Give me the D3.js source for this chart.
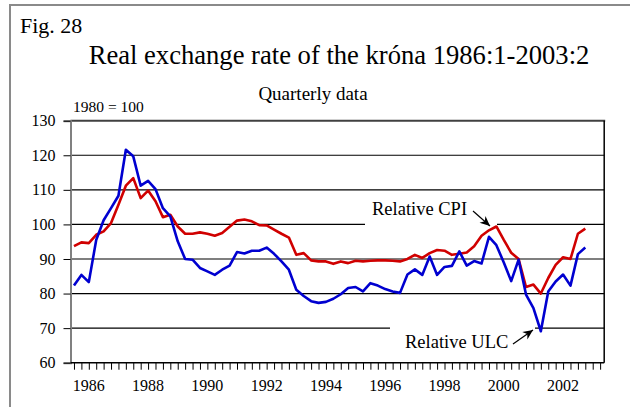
<!DOCTYPE html>
<html><head><meta charset="utf-8">
<script src="https://cdn.jsdelivr.net/npm/d3@7"></script>
<style>html,body{margin:0;padding:0;background:#fff;}svg{display:block;font-family:"Liberation Serif","Times New Roman",serif;}</style>
</head><body>
<svg id="c" width="630" height="407"></svg>
<script>
// quarterly data 1986:1 - 2003:2
const startYear = 1986;
const relativeCPI = [93.7,94.8,94.6,97.0,98.0,100.4,105.7,111.2,113.4,107.6,109.8,106.7,102.1,102.8,99.4,97.3,97.3,97.7,97.3,96.7,97.5,99.3,101.1,101.4,100.9,99.8,99.7,98.5,97.3,96.2,91.2,91.7,89.6,89.3,89.3,88.6,89.3,88.8,89.5,89.3,89.5,89.6,89.6,89.5,89.3,90.0,91.2,90.3,91.7,92.6,92.4,91.2,91.5,91.9,93.7,96.7,98.3,99.4,95.5,91.8,90.0,81.9,82.6,80.0,84.5,88.3,90.5,90.0,97.3,98.8];
const relativeULC = [82.3,85.4,83.3,95.5,101.2,104.7,108.3,121.6,119.7,111.2,112.6,110.2,104.7,102.3,95.1,90.0,89.8,87.4,86.4,85.4,86.9,88.1,92.0,91.6,92.4,92.4,93.3,91.5,89.3,86.9,81.1,79.3,77.8,77.3,77.6,78.5,79.8,81.6,81.9,80.6,83.0,82.3,81.3,80.6,80.2,85.5,87.0,85.4,90.7,85.4,87.7,88.0,92.2,88.1,89.4,88.7,96.4,94.0,89.0,83.6,89.8,79.7,75.8,69.1,80.6,83.5,85.5,82.3,91.4,93.3];
const quarters = relativeCPI.map((d,i)=> (startYear+Math.floor(i/4))+":"+(i%4+1));
const yTicks = [60,70,80,90,100,110,120,130];
const yearLabels = ["1986","1988","1990","1992","1994","1996","1998","2000","2002"];
const axisQuarterCount = 72;

const svg = d3.select("#c");
const L = 70.5, R = 604.2, T = 120.7, B = 362.7;
const x = d3.scaleLinear().domain([-0.47, 71.55]).range([L, R]);
const y = d3.scaleLinear().domain([60, 130]).range([B, T]);

// outer frame
svg.append("line").attr("x1",9).attr("x2",630).attr("y1",5).attr("y2",5).attr("stroke","#8a8a8a").attr("stroke-width",2);
svg.append("line").attr("x1",10).attr("x2",10).attr("y1",4).attr("y2",407).attr("stroke","#8a8a8a").attr("stroke-width",2);

// texts
svg.append("text").attr("x",20).attr("y",33).attr("font-size",22).text("Fig. 28");
svg.append("text").attr("x",339).attr("y",64).attr("font-size",26.6).attr("text-anchor","middle").text("Real exchange rate of the króna 1986:1-2003:2");
svg.append("text").attr("x",313).attr("y",100).attr("font-size",19).attr("text-anchor","middle").text("Quarterly data");
svg.append("text").attr("x",73).attr("y",112).attr("font-size",15.5).text("1980 = 100");

// gridlines
const grid = svg.append("g");
yTicks.filter(v=>v>60 && v<130).forEach(v=>{
  grid.append("line").attr("x1",L).attr("x2",R).attr("y1",y(v)).attr("y2",y(v)).attr("stroke","#000").attr("stroke-width",1.2);
});
// top border
svg.append("line").attr("x1",L).attr("x2",R+1).attr("y1",y(130)).attr("y2",y(130)).attr("stroke","#404040").attr("stroke-width",2);
// right border
svg.append("line").attr("x1",R).attr("x2",R).attr("y1",T).attr("y2",B).attr("stroke","#000").attr("stroke-width",1.5);

// y axis
const yAxis = d3.axisLeft(y).tickValues(yTicks).tickSize(7).tickPadding(8).tickFormat(d3.format("d"));
const gy = svg.append("g").attr("transform",`translate(${L},0)`).call(yAxis);
gy.select(".domain").attr("stroke","#808080").attr("stroke-width",2);
gy.selectAll(".tick line").attr("stroke","#000");
gy.selectAll(".tick text").attr("font-size",16).attr("font-family","Liberation Serif, Times New Roman, serif").attr("fill","#000");

// x axis
const xAxis = d3.axisBottom(x).tickValues(d3.range(axisQuarterCount)).tickSize(7).tickFormat("");
const gx = svg.append("g").attr("transform",`translate(0,${B})`).call(xAxis);
gx.select(".domain").attr("d",`M${L},0H${R}`).attr("stroke","#000").attr("stroke-width",1.5);
gx.selectAll(".tick line").attr("stroke","#000");
yearLabels.forEach((lab,j)=>{
  svg.append("text").attr("x",x(2+8*j)).attr("y",391).attr("font-size",16).attr("text-anchor","middle").text(lab);
});

// label boxes (hide gridlines)
svg.append("rect").attr("x",365).attr("y",198).attr("width",132).attr("height",30).attr("fill","#fff");
svg.append("rect").attr("x",390).attr("y",323).attr("width",145).attr("height",32).attr("fill","#fff");
svg.append("text").attr("x",372).attr("y",215).attr("font-size",18.5).text("Relative CPI");
svg.append("text").attr("x",405).attr("y",348).attr("font-size",18.5).text("Relative ULC");

function arrow(x1,y1,x2,y2){
  svg.append("line").attr("x1",x1).attr("y1",y1).attr("x2",x2).attr("y2",y2).attr("stroke","#000").attr("stroke-width",1.2);
  const a = Math.atan2(y2-y1,x2-x1), len=10, w=4.5;
  const bx = x2-len*Math.cos(a), by = y2-len*Math.sin(a);
  const p = [[x2,y2],[bx+w*Math.sin(a),by-w*Math.cos(a)],[bx+3*Math.cos(a),by+3*Math.sin(a)],[bx-w*Math.sin(a),by+w*Math.cos(a)]];
  svg.append("path").attr("d","M"+p.map(q=>q.join(",")).join("L")+"Z").attr("fill","#000");
}
arrow(473,211,490,226);
arrow(513,344,533,330);

// series
const line = d3.line().x((d,i)=>x(i)).y(d=>y(d));
svg.append("path").datum(relativeCPI).attr("d",line).attr("fill","none").attr("stroke","#d00000").attr("stroke-width",2.6).attr("stroke-linejoin","round");
svg.append("path").datum(relativeULC).attr("d",line).attr("fill","none").attr("stroke","#0000d0").attr("stroke-width",2.6).attr("stroke-linejoin","round");
</script>
</body></html>
